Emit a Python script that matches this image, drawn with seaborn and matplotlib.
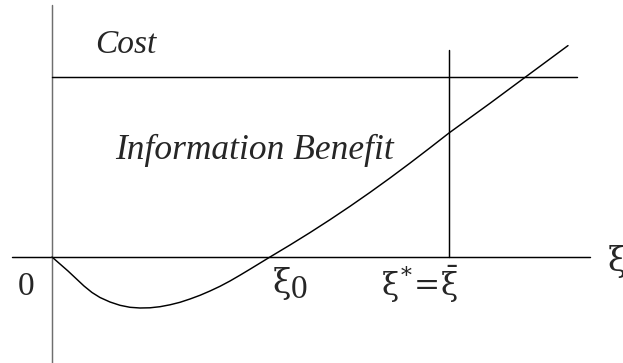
import matplotlib
matplotlib.use("Agg")
import matplotlib.pyplot as plt
import seaborn as sns
import pandas as pd

# --- data (diagram units: origin at the axes crossing) ---
benefit_x = [0.00, 0.08, 0.16, 0.24, 0.32, 0.40, 0.48, 0.58, 0.68, 0.78, 0.88,
             0.98, 1.08, 1.18, 1.28, 1.38, 1.48, 1.58, 1.68, 1.78, 1.88, 1.98,
             2.08, 2.18, 2.38, 2.58, 2.78, 2.98, 3.18, 3.38, 3.58, 3.78, 3.97,
             4.38, 4.75, 5.16]
benefit_y = [0.000, -0.070, -0.140, -0.215, -0.290, -0.355, -0.405, -0.450, -0.483,
             -0.503, -0.510, -0.508, -0.497, -0.478, -0.453, -0.420, -0.383, -0.340,
             -0.293, -0.240, -0.182, -0.122, -0.061, 0.000, 0.120, 0.244, 0.373,
             0.507, 0.646, 0.790, 0.939, 1.092, 1.240, 1.537, 1.811, 2.114]
cost_level = 1.80
xi_star = 3.97
xi_zero = 2.18

curve_label = "Information Benefit"
cost_label = "Cost"
origin_label = "0"
axis_label = "ξ"
xi0_label = ("ξ", "0")
xistar_label = r"$\xi^{*}\!=\!\bar{\xi}$"

sns.set_theme(style="white")
plt.rcParams["font.family"] = ["Liberation Serif", "DejaVu Serif"]
plt.rcParams["mathtext.fontset"] = "custom"
plt.rcParams["mathtext.rm"] = "DejaVu Serif"
plt.rcParams["mathtext.it"] = "DejaVu Serif"
plt.rcParams["mathtext.bf"] = "DejaVu Serif"

fig = plt.figure(figsize=(6.23, 3.63), dpi=100)
ax = fig.add_axes([0, 0, 1, 1])

lw = 1.05
# axes lines
ax.plot([-0.40, 5.38], [0, 0], color="black", lw=lw)
ax.plot([0, 0], [-1.06, 2.52], color="#6e6e6e", lw=lw)
# cost line
ax.plot([0, 5.25], [cost_level, cost_level], color="black", lw=lw)
# vertical line at xi*
ax.plot([xi_star, xi_star], [0, 2.07], color="black", lw=lw)

df = pd.DataFrame({"x": benefit_x, "y": benefit_y})
sns.lineplot(data=df, x="x", y="y", ax=ax, color="black", lw=lw,
             estimator=None, sort=False)
ax.set_xlim(-0.52, 5.71)
ax.set_ylim(-1.06, 2.57)
ax.axis("off")

fs = 24
greek = ["DejaVu Serif"]
ax.text(0.43, 2.12, cost_label, fontsize=fs, style="italic",
        ha="left", va="center")
ax.text(0.63, 1.07, curve_label, fontsize=25.5, style="italic",
        ha="left", va="center")
ax.text(-0.26, -0.30, origin_label, fontsize=fs, ha="center", va="center")
ax.text(5.56, -0.04, axis_label, fontsize=fs, ha="left", va="center",
        family=greek)
ax.text(2.30, -0.26, xi0_label[0], fontsize=fs, ha="center", va="center",
        family=greek)
ax.text(2.47, -0.33, xi0_label[1], fontsize=fs, ha="center", va="center")
ax.text(3.68, -0.27, xistar_label, fontsize=22.5, ha="center", va="center")

fig.savefig("out.png", dpi=100)
